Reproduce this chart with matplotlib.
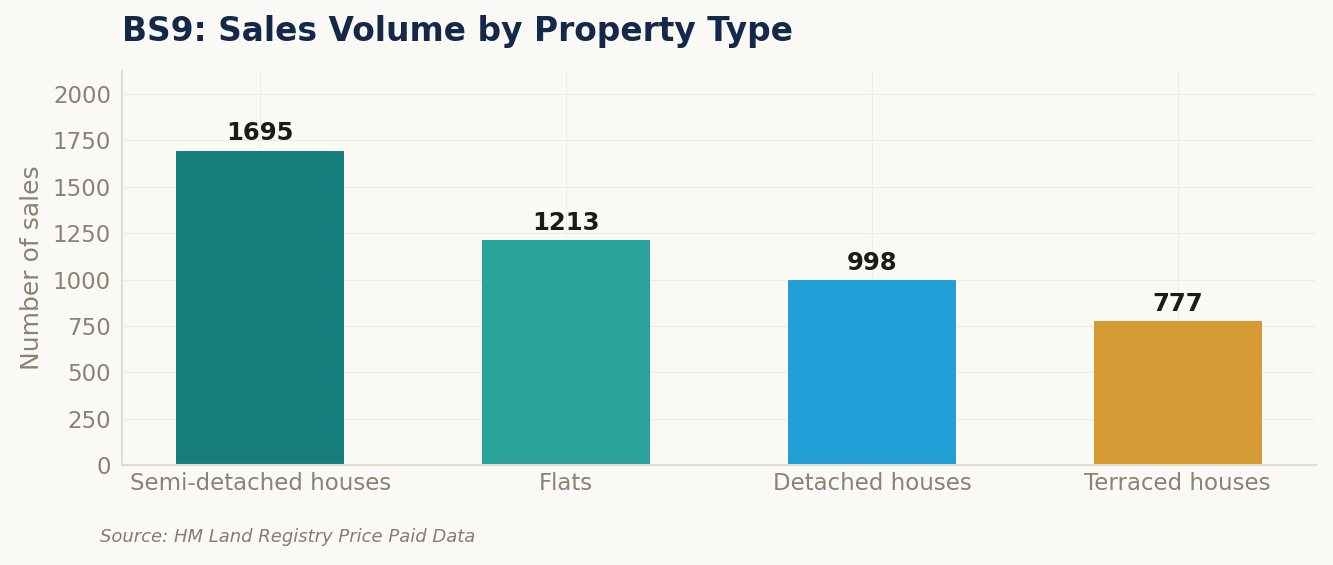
import matplotlib
matplotlib.use("Agg")
import matplotlib.pyplot as plt
import numpy as np

# Chart data
property_types = ["Semi-detached houses", "Flats", "Detached houses", "Terraced houses"]
sales = [1695, 1213, 998, 777]
bar_colors = ["#167F7E", "#2AA39A", "#239FD8", "#D69A34"]

BG = "#FAF9F5"
MUTED = "#8A8273"

plt.rcParams["font.family"] = ["DejaVu Sans"]

fig = plt.figure(figsize=(13.33, 5.65), dpi=100, facecolor=BG)
ax = fig.add_axes([122 / 1333, 1 - 465 / 565, (1316 - 122) / 1333, (465 - 71) / 565])
ax.set_facecolor(BG)

x = np.arange(len(property_types))
bars = ax.bar(x, sales, width=0.55, color=bar_colors, zorder=2)

for bar, value in zip(bars, sales):
    ax.text(bar.get_x() + bar.get_width() / 2, value + 28, f"{value}",
            ha="center", va="bottom", fontsize=17.5, fontweight="bold", color="#1E1A16")

ax.set_ylim(0, 2124)
ax.set_yticks(np.arange(0, 2001, 250))
ax.set_xticks(x)
ax.set_xticklabels(property_types)
ax.tick_params(axis="both", colors=MUTED, labelsize=16.5, length=0)
ax.tick_params(axis="x", pad=5)
ax.tick_params(axis="y", pad=8)
ax.set_ylabel("Number of sales", fontsize=18, color=MUTED, labelpad=6)

ax.grid(True, color="#EFECE4", linewidth=0.8, zorder=0)
for side in ["top", "right"]:
    ax.spines[side].set_visible(False)
for side in ["left", "bottom"]:
    ax.spines[side].set_color("#E3DDCF")
    ax.spines[side].set_linewidth(1.5)

fig.text(122 / 1333, 1 - 32 / 565, "BS9: Sales Volume by Property Type",
         fontsize=23.7, fontweight="bold", color="#14294A", ha="left", va="center")
fig.text(100 / 1333, 1 - 537 / 565, "Source: HM Land Registry Price Paid Data",
         fontsize=13, fontstyle="italic", color="#857D70", ha="left", va="center")

fig.savefig("out.png", dpi=100, facecolor=BG)
